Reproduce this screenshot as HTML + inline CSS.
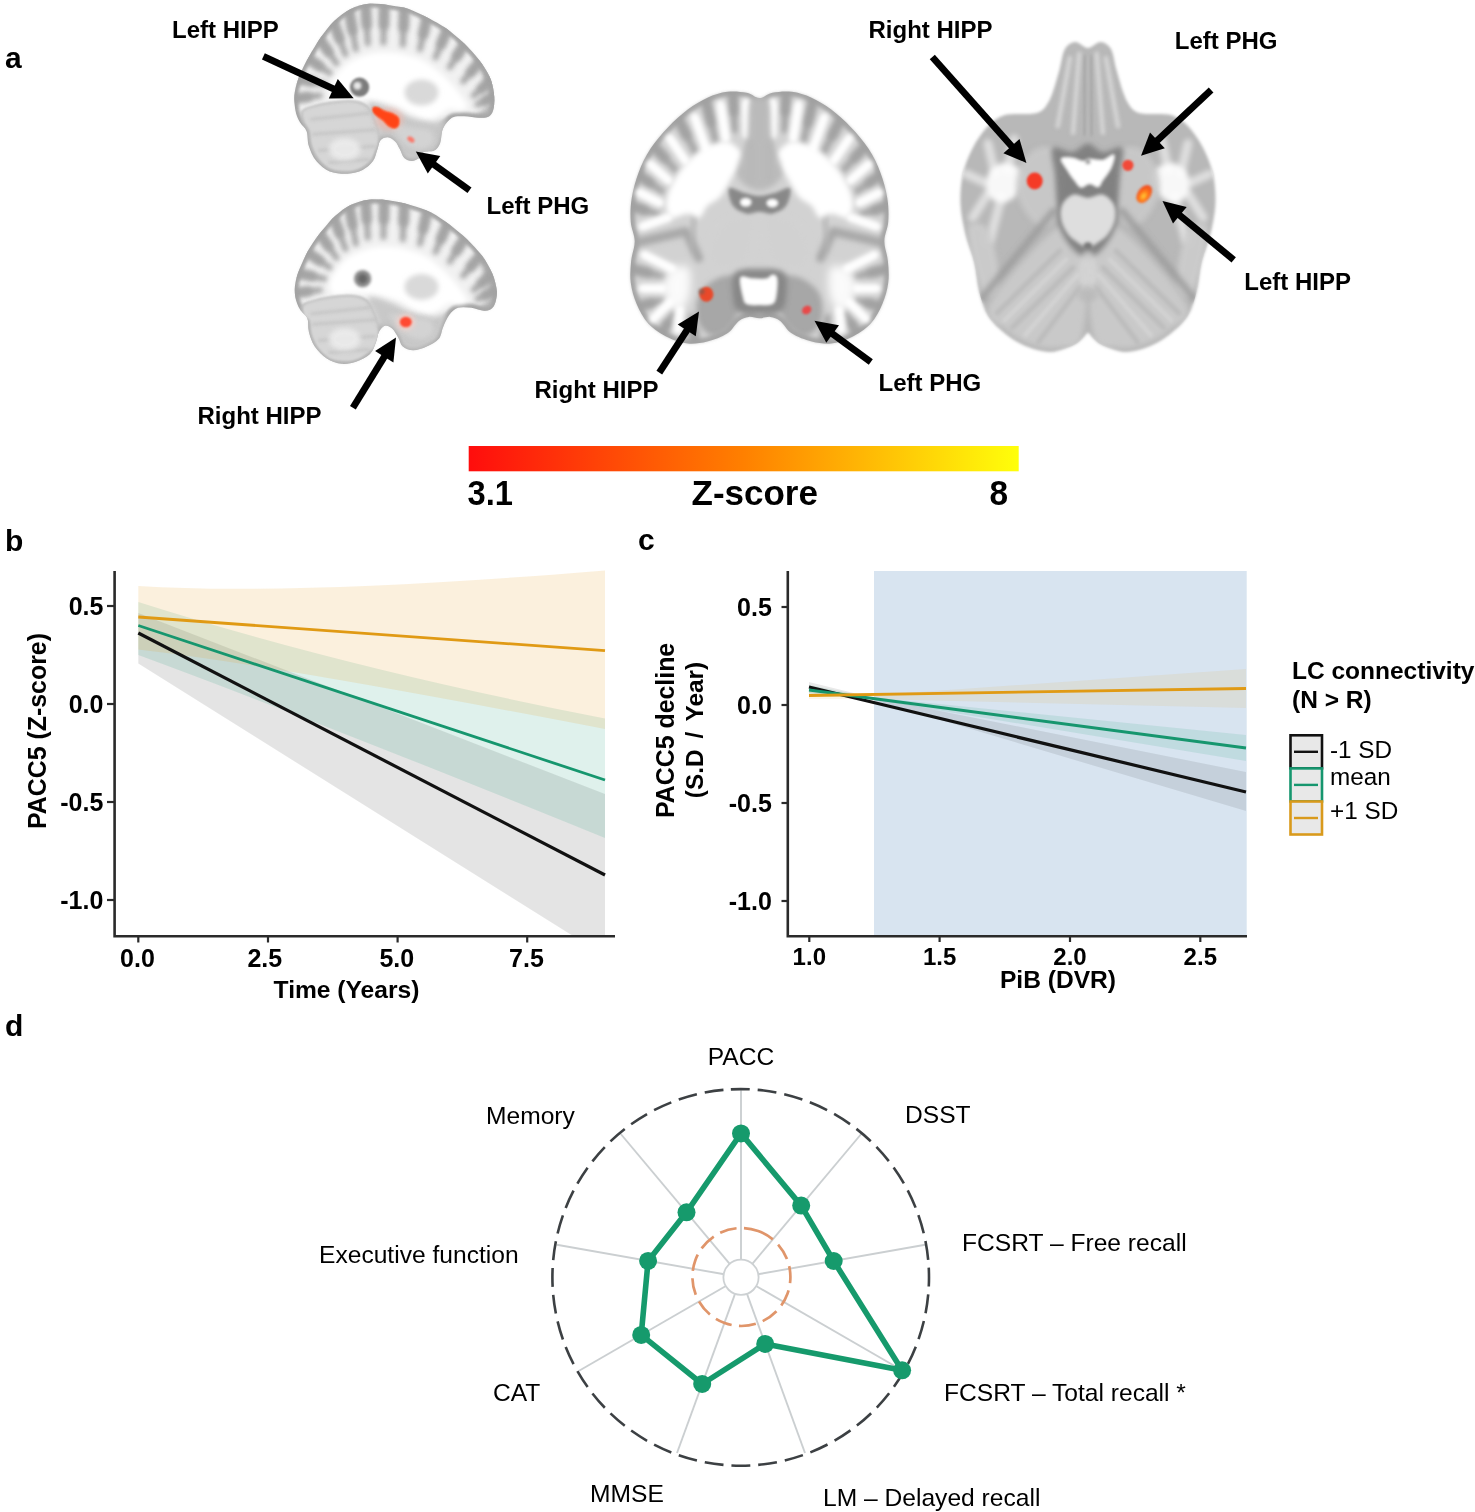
<!DOCTYPE html>
<html><head><meta charset="utf-8"><title>Figure</title>
<style>
html,body{margin:0;padding:0;background:#fff;}
svg{display:block;font-family:"Liberation Sans",Arial,Helvetica,sans-serif;fill:#000;}
</style></head><body>
<svg width="1475" height="1512" viewBox="0 0 1475 1512">
<rect width="1475" height="1512" fill="#fff"/>
<defs><filter id="bl1" x="-30%" y="-30%" width="160%" height="160%"><feGaussianBlur stdDeviation="0.8"/></filter><filter id="bl2" x="-30%" y="-30%" width="160%" height="160%"><feGaussianBlur stdDeviation="1.5"/></filter><filter id="bl3" x="-30%" y="-30%" width="160%" height="160%"><feGaussianBlur stdDeviation="2.5"/></filter><filter id="bl4" x="-30%" y="-30%" width="160%" height="160%"><feGaussianBlur stdDeviation="4"/></filter><filter id="bl5" x="-30%" y="-30%" width="160%" height="160%"><feGaussianBlur stdDeviation="6"/></filter></defs>
<defs><clipPath id="cs1"><path d="M368.5,3.7C375.0,3.1 382.7,4.3 389.4,5.2C396.1,6.1 402.3,6.8 408.8,8.9C415.3,11.1 422.0,14.7 428.2,17.9C434.4,21.1 440.1,24.1 446.1,28.3C452.0,32.6 458.5,38.0 464.0,43.3C469.4,48.5 474.7,54.2 478.9,59.7C483.1,65.1 486.8,70.6 489.3,76.1C491.8,81.5 493.1,87.2 493.8,92.5C494.5,97.7 494.5,103.4 493.8,107.4C493.1,111.4 491.8,114.6 489.3,116.3C486.8,118.1 483.1,117.8 478.9,117.8C474.7,117.8 468.4,116.3 464.0,116.3C459.5,116.3 455.5,115.8 452.0,117.8C448.6,119.8 445.1,124.0 443.1,128.3C441.1,132.5 441.6,139.4 440.1,143.2C438.6,146.9 436.9,149.1 434.1,150.6C431.4,152.1 426.2,150.9 423.7,152.1C421.2,153.4 421.2,156.6 419.2,158.1C417.2,159.6 414.3,161.1 411.8,161.1C409.3,161.1 406.3,160.1 404.3,158.1C402.3,156.1 401.3,151.9 399.8,149.1C398.3,146.4 397.4,143.7 395.4,141.7C393.4,139.7 390.4,137.5 387.9,137.2C385.4,137.0 382.2,138.2 380.5,140.2C378.7,142.2 378.7,145.7 377.5,149.1C376.2,152.6 375.5,157.6 373.0,161.1C370.5,164.6 366.8,167.9 362.6,170.0C358.3,172.1 353.1,173.5 347.6,173.8C342.2,174.0 335.0,173.6 329.7,171.5C324.5,169.4 319.8,165.3 316.3,161.1C312.8,156.8 310.5,151.1 308.9,146.2C307.2,141.2 308.1,135.2 306.6,131.2C305.1,127.3 301.8,125.8 299.9,122.3C298.0,118.8 296.3,115.3 295.4,110.4C294.6,105.4 293.9,98.4 294.7,92.5C295.4,86.5 297.6,80.5 299.9,74.6C302.3,68.6 305.4,62.9 308.9,56.7C312.3,50.5 316.6,43.3 320.8,37.3C325.0,31.3 329.2,25.6 334.2,20.9C339.2,16.2 344.9,11.8 350.6,8.9C356.3,6.1 362.1,4.3 368.5,3.7Z"/></clipPath></defs>
<path d="M368.5,3.7C375.0,3.1 382.7,4.3 389.4,5.2C396.1,6.1 402.3,6.8 408.8,8.9C415.3,11.1 422.0,14.7 428.2,17.9C434.4,21.1 440.1,24.1 446.1,28.3C452.0,32.6 458.5,38.0 464.0,43.3C469.4,48.5 474.7,54.2 478.9,59.7C483.1,65.1 486.8,70.6 489.3,76.1C491.8,81.5 493.1,87.2 493.8,92.5C494.5,97.7 494.5,103.4 493.8,107.4C493.1,111.4 491.8,114.6 489.3,116.3C486.8,118.1 483.1,117.8 478.9,117.8C474.7,117.8 468.4,116.3 464.0,116.3C459.5,116.3 455.5,115.8 452.0,117.8C448.6,119.8 445.1,124.0 443.1,128.3C441.1,132.5 441.6,139.4 440.1,143.2C438.6,146.9 436.9,149.1 434.1,150.6C431.4,152.1 426.2,150.9 423.7,152.1C421.2,153.4 421.2,156.6 419.2,158.1C417.2,159.6 414.3,161.1 411.8,161.1C409.3,161.1 406.3,160.1 404.3,158.1C402.3,156.1 401.3,151.9 399.8,149.1C398.3,146.4 397.4,143.7 395.4,141.7C393.4,139.7 390.4,137.5 387.9,137.2C385.4,137.0 382.2,138.2 380.5,140.2C378.7,142.2 378.7,145.7 377.5,149.1C376.2,152.6 375.5,157.6 373.0,161.1C370.5,164.6 366.8,167.9 362.6,170.0C358.3,172.1 353.1,173.5 347.6,173.8C342.2,174.0 335.0,173.6 329.7,171.5C324.5,169.4 319.8,165.3 316.3,161.1C312.8,156.8 310.5,151.1 308.9,146.2C307.2,141.2 308.1,135.2 306.6,131.2C305.1,127.3 301.8,125.8 299.9,122.3C298.0,118.8 296.3,115.3 295.4,110.4C294.6,105.4 293.9,98.4 294.7,92.5C295.4,86.5 297.6,80.5 299.9,74.6C302.3,68.6 305.4,62.9 308.9,56.7C312.3,50.5 316.6,43.3 320.8,37.3C325.0,31.3 329.2,25.6 334.2,20.9C339.2,16.2 344.9,11.8 350.6,8.9C356.3,6.1 362.1,4.3 368.5,3.7Z" fill="#f1f1f1" filter="url(#bl2)" />
<g clip-path="url(#cs1)">
<path d="M368.5,3.7C375.0,3.1 382.7,4.3 389.4,5.2C396.1,6.1 402.3,6.8 408.8,8.9C415.3,11.1 422.0,14.7 428.2,17.9C434.4,21.1 440.1,24.1 446.1,28.3C452.0,32.6 458.5,38.0 464.0,43.3C469.4,48.5 474.7,54.2 478.9,59.7C483.1,65.1 486.8,70.6 489.3,76.1C491.8,81.5 493.1,87.2 493.8,92.5C494.5,97.7 494.5,103.4 493.8,107.4C493.1,111.4 491.8,114.6 489.3,116.3C486.8,118.1 483.1,117.8 478.9,117.8C474.7,117.8 468.4,116.3 464.0,116.3C459.5,116.3 455.5,115.8 452.0,117.8C448.6,119.8 445.1,124.0 443.1,128.3C441.1,132.5 441.6,139.4 440.1,143.2C438.6,146.9 436.9,149.1 434.1,150.6C431.4,152.1 426.2,150.9 423.7,152.1C421.2,153.4 421.2,156.6 419.2,158.1C417.2,159.6 414.3,161.1 411.8,161.1C409.3,161.1 406.3,160.1 404.3,158.1C402.3,156.1 401.3,151.9 399.8,149.1C398.3,146.4 397.4,143.7 395.4,141.7C393.4,139.7 390.4,137.5 387.9,137.2C385.4,137.0 382.2,138.2 380.5,140.2C378.7,142.2 378.7,145.7 377.5,149.1C376.2,152.6 375.5,157.6 373.0,161.1C370.5,164.6 366.8,167.9 362.6,170.0C358.3,172.1 353.1,173.5 347.6,173.8C342.2,174.0 335.0,173.6 329.7,171.5C324.5,169.4 319.8,165.3 316.3,161.1C312.8,156.8 310.5,151.1 308.9,146.2C307.2,141.2 308.1,135.2 306.6,131.2C305.1,127.3 301.8,125.8 299.9,122.3C298.0,118.8 296.3,115.3 295.4,110.4C294.6,105.4 293.9,98.4 294.7,92.5C295.4,86.5 297.6,80.5 299.9,74.6C302.3,68.6 305.4,62.9 308.9,56.7C312.3,50.5 316.6,43.3 320.8,37.3C325.0,31.3 329.2,25.6 334.2,20.9C339.2,16.2 344.9,11.8 350.6,8.9C356.3,6.1 362.1,4.3 368.5,3.7Z" fill="none" stroke="#9e9e9e" stroke-width="8" filter="url(#bl2)" opacity="0.9"/>
<path d="M483.4,64.1L496.8,104.4M496.8,104.4L478.9,119.3" fill="none" stroke="#a8a8a8" stroke-width="9" stroke-linecap="round" filter="url(#bl3)" opacity="0.8"/>
<path d="M365.5,6.0L367.8,43.3M384.2,6.7L383.4,42.5M404.3,9.7L402.8,44.7M426.7,18.6L420.0,49.2M446.8,30.6L435.6,57.4M464.0,44.7L449.8,67.1M478.9,62.6L463.2,81.3M490.1,81.3L473.7,95.5M349.1,11.2L355.8,49.2M333.5,22.4L345.4,54.4M320.0,39.5L336.5,63.4M308.9,58.9L329.7,73.1M299.2,79.0L324.5,84.3M295.4,98.4L320.0,95.5M493.8,96.9L477.4,104.4" fill="none" stroke="#a2a2a2" stroke-width="6" stroke-linecap="round" filter="url(#bl3)" opacity="0.95"/><path d="M365.5,6.0L366.7,24.6M384.2,6.7L383.8,24.6M404.3,9.7L403.6,27.2M426.7,18.6L423.3,33.9M446.8,30.6L441.2,44.0M464.0,44.7L456.9,55.9M478.9,62.6L471.1,72.0M490.1,81.3L481.9,88.4M349.1,11.2L352.5,30.2M333.5,22.4L339.4,38.4M320.0,39.5L328.3,51.5M308.9,58.9L319.3,66.0M299.2,79.0L311.8,81.7M295.4,98.4L307.7,96.9M493.8,96.9L485.6,100.7" fill="none" stroke="#a2a2a2" stroke-width="10.5" stroke-linecap="round" filter="url(#bl3)" opacity="0.855"/>
<path d="M329.7,89.5C330.2,85.3 334.0,79.0 337.2,74.6C340.4,70.1 344.4,65.9 349.1,62.6C353.9,59.4 359.8,56.9 365.5,55.2C371.3,53.4 377.0,52.3 383.4,52.2C389.9,52.1 397.6,52.9 404.3,54.4C411.0,55.9 417.7,58.0 423.7,61.1C429.7,64.3 435.1,68.9 440.1,73.1C445.1,77.3 449.6,82.0 453.5,86.5C457.5,91.0 461.7,96.4 464.0,99.9C466.2,103.4 467.7,105.6 467.0,107.4C466.2,109.1 462.5,110.1 459.5,110.4C456.5,110.6 452.3,108.1 449.1,108.9C445.8,109.6 443.6,113.1 440.1,114.8C436.6,116.6 432.7,119.3 428.2,119.3C423.7,119.3 417.7,116.8 413.3,114.8C408.8,112.9 405.6,109.4 401.3,107.4C397.1,105.4 392.4,104.2 387.9,102.9C383.4,101.7 380.5,100.7 374.5,99.9C368.5,99.2 358.8,98.4 352.1,98.4C345.4,98.4 337.9,101.4 334.2,99.9C330.5,98.4 329.2,93.7 329.7,89.5Z" fill="#ffffff" filter="url(#bl3)" />
<path d="M310.4,107.4C315.0,105.9 322.8,103.9 329.7,102.9C336.7,101.9 346.0,100.9 352.1,101.4C358.2,101.9 362.6,102.9 366.3,105.9C370.0,108.9 372.2,113.8 374.5,119.3C376.7,124.8 379.6,133.0 379.7,138.7C379.8,144.4 376.7,149.8 375.2,153.6C373.7,157.5 373.2,159.2 370.8,161.8C368.3,164.4 364.2,167.5 360.3,169.3C356.5,171.0 352.6,172.1 347.6,172.3C342.7,172.4 335.4,172.1 330.5,170.0C325.6,167.9 321.4,163.7 318.1,159.6C314.8,155.5 312.2,150.1 310.7,145.4C309.1,140.7 309.7,135.1 308.6,131.2C307.4,127.4 304.7,125.5 303.6,122.3C302.6,119.1 301.0,114.3 302.2,111.9C303.3,109.4 305.8,108.9 310.4,107.4Z" fill="#d6d6d6" filter="url(#bl2)" />
<path d="M311.8,119.3L368.5,113.3M313.3,134.2L374.5,129.8M319.3,150.6L374.5,146.2M329.7,162.6L368.5,159.6" fill="none" stroke="#c2c2c2" stroke-width="3" stroke-linecap="round" filter="url(#bl2)" opacity="0.8"/>
<ellipse cx="344.7" cy="149.1" rx="16.0" ry="11.0" fill="#ececec" filter="url(#bl3)" opacity="0.9"/>
<path d="M310.4,107.4C315.0,105.9 322.8,103.9 329.7,102.9C336.7,101.9 346.0,100.9 352.1,101.4C358.2,101.9 362.6,102.9 366.3,105.9C370.0,108.9 372.2,113.8 374.5,119.3C376.7,124.8 379.6,133.0 379.7,138.7C379.8,144.4 376.7,149.8 375.2,153.6C373.7,157.5 373.2,159.2 370.8,161.8C368.3,164.4 364.2,167.5 360.3,169.3C356.5,171.0 352.6,172.1 347.6,172.3C342.7,172.4 335.4,172.1 330.5,170.0C325.6,167.9 321.4,163.7 318.1,159.6C314.8,155.5 312.2,150.1 310.7,145.4C309.1,140.7 309.7,135.1 308.6,131.2C307.4,127.4 304.7,125.5 303.6,122.3C302.6,119.1 301.0,114.3 302.2,111.9C303.3,109.4 305.8,108.9 310.4,107.4Z" fill="none" stroke="#b4b4b4" stroke-width="2" filter="url(#bl1)" opacity="0.8"/>
<path d="M368.5,102.9C371.0,100.9 382.2,104.9 389.4,107.4C396.6,109.9 404.3,115.3 411.8,117.8C419.2,120.3 428.4,122.0 434.1,122.3C439.9,122.5 444.6,117.3 446.1,119.3C447.6,121.3 444.1,130.3 443.1,134.2C442.1,138.2 441.6,140.2 440.1,143.2C438.6,146.2 437.6,149.4 434.1,152.1C430.7,154.9 424.2,158.6 419.2,159.6C414.3,160.6 407.8,160.3 404.3,158.1C400.8,155.9 400.8,149.6 398.3,146.2C395.9,142.7 392.4,138.5 389.4,137.2C386.4,136.0 382.9,141.7 380.5,138.7C378.0,135.7 376.5,125.3 374.5,119.3C372.5,113.3 366.0,104.9 368.5,102.9Z" fill="#c6c6c6" filter="url(#bl3)" opacity="0.95" />
<path d="M389.4,119.3C391.4,118.3 400.8,125.0 407.3,126.8C413.8,128.5 423.7,127.8 428.2,129.8C432.7,131.7 434.1,135.7 434.1,138.7C434.1,141.7 431.2,145.9 428.2,147.7C425.2,149.4 420.2,149.9 416.2,149.1C412.3,148.4 407.8,145.9 404.3,143.2C400.8,140.4 397.9,136.7 395.4,132.7C392.9,128.8 387.4,120.3 389.4,119.3Z" fill="#d4d4d4" filter="url(#bl3)" opacity="0.9" />
<ellipse cx="421.5" cy="92.5" rx="17.0" ry="13.0" fill="#d9d9d9" filter="url(#bl3)"/>
</g>
<circle cx="359.6" cy="87.2" r="9.6" fill="#7c7c7c" filter="url(#bl1)"/>
<circle cx="357.4" cy="85.7" r="4" fill="#e8e8e8" filter="url(#bl2)"/>
<path d="M373.3,107.7C374.1,107.0 376.4,107.1 378.2,107.7C380.0,108.3 381.8,110.1 384.2,111.1C386.5,112.1 390.0,112.5 392.4,113.6C394.7,114.8 397.3,116.0 398.3,117.8C399.4,119.6 399.2,122.8 398.6,124.5C398.1,126.2 396.7,127.7 395.1,128.0C393.4,128.2 390.6,127.3 388.7,126.0C386.7,124.8 385.4,122.2 383.4,120.5C381.4,118.8 378.4,117.1 376.7,115.6C375.0,114.1 373.9,112.9 373.3,111.6C372.7,110.2 372.5,108.3 373.3,107.7Z" fill="#ff4414" filter="url(#bl1)" />
<ellipse cx="389.4" cy="119.3" rx="14.0" ry="11.0" fill="#ffb0a0" filter="url(#bl3)" opacity="0.5"/>
<path d="M373.3,107.7C374.1,107.0 376.4,107.1 378.2,107.7C380.0,108.3 381.8,110.1 384.2,111.1C386.5,112.1 390.0,112.5 392.4,113.6C394.7,114.8 397.3,116.0 398.3,117.8C399.4,119.6 399.2,122.8 398.6,124.5C398.1,126.2 396.7,127.7 395.1,128.0C393.4,128.2 390.6,127.3 388.7,126.0C386.7,124.8 385.4,122.2 383.4,120.5C381.4,118.8 378.4,117.1 376.7,115.6C375.0,114.1 373.9,112.9 373.3,111.6C372.7,110.2 372.5,108.3 373.3,107.7Z" fill="#ff4414" filter="url(#bl1)" />
<ellipse cx="411.0" cy="139.4" rx="4.0" ry="2.5" fill="#ff7060" filter="url(#bl1)" opacity="0.9" transform="rotate(35 411.0 139.4)"/>
<defs><clipPath id="cs2"><path d="M368.5,199.7C375.0,198.9 382.4,199.6 389.4,200.4C396.4,201.3 403.3,202.9 410.3,204.9C417.2,206.9 424.7,209.1 431.2,212.4C437.6,215.6 443.1,219.8 449.1,224.3C455.0,228.8 461.5,234.0 467.0,239.2C472.4,244.4 477.6,249.9 481.9,255.6C486.1,261.3 489.8,267.6 492.3,273.5C494.8,279.5 496.5,285.9 496.8,291.4C497.0,296.9 495.8,303.1 493.8,306.3C491.8,309.6 488.6,310.6 484.9,310.8C481.1,311.1 475.9,308.3 471.4,307.8C467.0,307.3 461.7,306.6 458.0,307.8C454.3,309.1 451.5,312.0 449.1,315.3C446.6,318.5 444.8,323.2 443.1,327.2C441.4,331.2 441.4,335.9 438.6,339.1C435.9,342.4 430.9,344.7 426.7,346.6C422.5,348.5 417.2,350.3 413.3,350.3C409.3,350.3 405.3,348.7 402.8,346.6C400.3,344.5 400.1,340.6 398.3,337.7C396.6,334.7 394.6,330.7 392.4,328.7C390.1,326.7 387.2,325.2 384.9,325.7C382.7,326.2 380.5,329.0 379.0,331.7C377.5,334.4 377.5,338.4 376.0,342.1C374.5,345.9 373.2,350.8 370.0,354.1C366.8,357.3 361.3,359.9 356.6,361.5C351.9,363.1 346.6,364.2 341.7,363.8C336.7,363.3 331.2,361.4 326.8,358.5C322.3,355.7 317.8,351.1 314.8,346.6C311.8,342.1 310.1,336.4 308.9,331.7C307.6,327.0 308.9,322.0 307.4,318.3C305.9,314.5 301.9,312.8 299.9,309.3C297.9,305.8 296.2,301.9 295.4,297.4C294.7,292.9 294.4,287.9 295.4,282.5C296.4,277.0 298.9,270.5 301.4,264.6C303.9,258.6 306.9,252.4 310.4,246.7C313.8,241.0 318.1,235.5 322.3,230.3C326.5,225.0 331.0,219.6 335.7,215.4C340.4,211.1 345.2,207.5 350.6,204.9C356.1,202.3 362.1,200.4 368.5,199.7Z"/></clipPath></defs>
<path d="M368.5,199.7C375.0,198.9 382.4,199.6 389.4,200.4C396.4,201.3 403.3,202.9 410.3,204.9C417.2,206.9 424.7,209.1 431.2,212.4C437.6,215.6 443.1,219.8 449.1,224.3C455.0,228.8 461.5,234.0 467.0,239.2C472.4,244.4 477.6,249.9 481.9,255.6C486.1,261.3 489.8,267.6 492.3,273.5C494.8,279.5 496.5,285.9 496.8,291.4C497.0,296.9 495.8,303.1 493.8,306.3C491.8,309.6 488.6,310.6 484.9,310.8C481.1,311.1 475.9,308.3 471.4,307.8C467.0,307.3 461.7,306.6 458.0,307.8C454.3,309.1 451.5,312.0 449.1,315.3C446.6,318.5 444.8,323.2 443.1,327.2C441.4,331.2 441.4,335.9 438.6,339.1C435.9,342.4 430.9,344.7 426.7,346.6C422.5,348.5 417.2,350.3 413.3,350.3C409.3,350.3 405.3,348.7 402.8,346.6C400.3,344.5 400.1,340.6 398.3,337.7C396.6,334.7 394.6,330.7 392.4,328.7C390.1,326.7 387.2,325.2 384.9,325.7C382.7,326.2 380.5,329.0 379.0,331.7C377.5,334.4 377.5,338.4 376.0,342.1C374.5,345.9 373.2,350.8 370.0,354.1C366.8,357.3 361.3,359.9 356.6,361.5C351.9,363.1 346.6,364.2 341.7,363.8C336.7,363.3 331.2,361.4 326.8,358.5C322.3,355.7 317.8,351.1 314.8,346.6C311.8,342.1 310.1,336.4 308.9,331.7C307.6,327.0 308.9,322.0 307.4,318.3C305.9,314.5 301.9,312.8 299.9,309.3C297.9,305.8 296.2,301.9 295.4,297.4C294.7,292.9 294.4,287.9 295.4,282.5C296.4,277.0 298.9,270.5 301.4,264.6C303.9,258.6 306.9,252.4 310.4,246.7C313.8,241.0 318.1,235.5 322.3,230.3C326.5,225.0 331.0,219.6 335.7,215.4C340.4,211.1 345.2,207.5 350.6,204.9C356.1,202.3 362.1,200.4 368.5,199.7Z" fill="#f1f1f1" filter="url(#bl2)" />
<g clip-path="url(#cs2)">
<path d="M368.5,199.7C375.0,198.9 382.4,199.6 389.4,200.4C396.4,201.3 403.3,202.9 410.3,204.9C417.2,206.9 424.7,209.1 431.2,212.4C437.6,215.6 443.1,219.8 449.1,224.3C455.0,228.8 461.5,234.0 467.0,239.2C472.4,244.4 477.6,249.9 481.9,255.6C486.1,261.3 489.8,267.6 492.3,273.5C494.8,279.5 496.5,285.9 496.8,291.4C497.0,296.9 495.8,303.1 493.8,306.3C491.8,309.6 488.6,310.6 484.9,310.8C481.1,311.1 475.9,308.3 471.4,307.8C467.0,307.3 461.7,306.6 458.0,307.8C454.3,309.1 451.5,312.0 449.1,315.3C446.6,318.5 444.8,323.2 443.1,327.2C441.4,331.2 441.4,335.9 438.6,339.1C435.9,342.4 430.9,344.7 426.7,346.6C422.5,348.5 417.2,350.3 413.3,350.3C409.3,350.3 405.3,348.7 402.8,346.6C400.3,344.5 400.1,340.6 398.3,337.7C396.6,334.7 394.6,330.7 392.4,328.7C390.1,326.7 387.2,325.2 384.9,325.7C382.7,326.2 380.5,329.0 379.0,331.7C377.5,334.4 377.5,338.4 376.0,342.1C374.5,345.9 373.2,350.8 370.0,354.1C366.8,357.3 361.3,359.9 356.6,361.5C351.9,363.1 346.6,364.2 341.7,363.8C336.7,363.3 331.2,361.4 326.8,358.5C322.3,355.7 317.8,351.1 314.8,346.6C311.8,342.1 310.1,336.4 308.9,331.7C307.6,327.0 308.9,322.0 307.4,318.3C305.9,314.5 301.9,312.8 299.9,309.3C297.9,305.8 296.2,301.9 295.4,297.4C294.7,292.9 294.4,287.9 295.4,282.5C296.4,277.0 298.9,270.5 301.4,264.6C303.9,258.6 306.9,252.4 310.4,246.7C313.8,241.0 318.1,235.5 322.3,230.3C326.5,225.0 331.0,219.6 335.7,215.4C340.4,211.1 345.2,207.5 350.6,204.9C356.1,202.3 362.1,200.4 368.5,199.7Z" fill="none" stroke="#9e9e9e" stroke-width="8" filter="url(#bl2)" opacity="0.9"/>
<path d="M483.4,258.6L496.8,298.9M496.8,298.9L478.9,313.8" fill="none" stroke="#a8a8a8" stroke-width="9" stroke-linecap="round" filter="url(#bl3)" opacity="0.8"/>
<path d="M365.5,200.4L367.8,237.7M384.2,201.2L383.4,237.0M404.3,204.2L402.8,239.2M426.7,213.1L420.0,243.7M446.8,225.0L435.6,251.9M464.0,239.2L449.8,261.6M478.9,257.1L463.2,275.8M490.1,275.8L473.7,289.9M349.1,205.7L355.8,243.7M333.5,216.8L345.4,248.9M320.0,234.0L336.5,257.9M308.9,253.4L329.7,267.6M299.2,273.5L324.5,278.7M295.4,292.9L320.0,289.9M493.8,291.4L477.4,298.9" fill="none" stroke="#a2a2a2" stroke-width="6" stroke-linecap="round" filter="url(#bl3)" opacity="0.95"/><path d="M365.5,200.4L366.7,219.1M384.2,201.2L383.8,219.1M404.3,204.2L403.6,221.7M426.7,213.1L423.3,228.4M446.8,225.0L441.2,238.5M464.0,239.2L456.9,250.4M478.9,257.1L471.1,266.4M490.1,275.8L481.9,282.8M349.1,205.7L352.5,224.7M333.5,216.8L339.4,232.9M320.0,234.0L328.3,245.9M308.9,253.4L319.3,260.5M299.2,273.5L311.8,276.1M295.4,292.9L307.7,291.4M493.8,291.4L485.6,295.1" fill="none" stroke="#a2a2a2" stroke-width="10.5" stroke-linecap="round" filter="url(#bl3)" opacity="0.855"/>
<path d="M329.7,284.0C330.2,279.7 334.0,273.5 337.2,269.0C340.4,264.6 344.4,260.3 349.1,257.1C353.9,253.9 359.8,251.4 365.5,249.7C371.3,247.9 377.0,246.8 383.4,246.7C389.9,246.5 397.6,247.4 404.3,248.9C411.0,250.4 417.7,252.5 423.7,255.6C429.7,258.7 435.1,263.3 440.1,267.6C445.1,271.8 449.6,276.5 453.5,281.0C457.5,285.5 461.7,290.9 464.0,294.4C466.2,297.9 467.7,300.1 467.0,301.9C466.2,303.6 462.5,304.6 459.5,304.8C456.5,305.1 452.3,302.6 449.1,303.3C445.8,304.1 443.6,307.6 440.1,309.3C436.6,311.1 432.7,313.8 428.2,313.8C423.7,313.8 417.7,311.3 413.3,309.3C408.8,307.3 405.6,303.8 401.3,301.9C397.1,299.9 392.4,298.6 387.9,297.4C383.4,296.1 380.5,295.1 374.5,294.4C368.5,293.7 358.8,292.9 352.1,292.9C345.4,292.9 337.9,295.9 334.2,294.4C330.5,292.9 329.2,288.2 329.7,284.0Z" fill="#ffffff" filter="url(#bl3)" />
<path d="M310.4,301.9C315.0,300.4 322.8,298.4 329.7,297.4C336.7,296.4 346.0,295.4 352.1,295.9C358.2,296.4 362.6,297.4 366.3,300.4C370.0,303.3 372.2,308.3 374.5,313.8C376.7,319.3 379.6,327.5 379.7,333.2C379.8,338.9 376.7,345.0 375.2,348.1C373.7,351.2 373.2,350.0 370.8,351.8C368.3,353.7 364.2,357.5 360.3,359.3C356.5,361.0 352.6,362.1 347.6,362.3C342.7,362.4 335.4,362.1 330.5,360.0C325.6,357.9 321.4,353.7 318.1,349.6C314.8,345.5 312.2,340.1 310.7,335.4C309.1,330.7 309.7,324.4 308.6,321.2C307.4,318.1 304.7,319.3 303.6,316.8C302.6,314.3 301.0,308.8 302.2,306.3C303.3,303.8 305.8,303.3 310.4,301.9Z" fill="#d6d6d6" filter="url(#bl2)" />
<path d="M311.8,313.8L368.5,307.8M313.3,324.2L374.5,319.8M319.3,340.6L374.5,336.2M329.7,352.6L368.5,349.6" fill="none" stroke="#c2c2c2" stroke-width="3" stroke-linecap="round" filter="url(#bl2)" opacity="0.8"/>
<ellipse cx="344.7" cy="339.1" rx="16.0" ry="11.0" fill="#ececec" filter="url(#bl3)" opacity="0.9"/>
<path d="M310.4,301.9C315.0,300.4 322.8,298.4 329.7,297.4C336.7,296.4 346.0,295.4 352.1,295.9C358.2,296.4 362.6,297.4 366.3,300.4C370.0,303.3 372.2,308.3 374.5,313.8C376.7,319.3 379.6,327.5 379.7,333.2C379.8,338.9 376.7,345.0 375.2,348.1C373.7,351.2 373.2,350.0 370.8,351.8C368.3,353.7 364.2,357.5 360.3,359.3C356.5,361.0 352.6,362.1 347.6,362.3C342.7,362.4 335.4,362.1 330.5,360.0C325.6,357.9 321.4,353.7 318.1,349.6C314.8,345.5 312.2,340.1 310.7,335.4C309.1,330.7 309.7,324.4 308.6,321.2C307.4,318.1 304.7,319.3 303.6,316.8C302.6,314.3 301.0,308.8 302.2,306.3C303.3,303.8 305.8,303.3 310.4,301.9Z" fill="none" stroke="#b4b4b4" stroke-width="2" filter="url(#bl1)" opacity="0.8"/>
<path d="M368.5,297.4C371.0,295.4 382.2,299.4 389.4,301.9C396.6,304.3 404.3,309.8 411.8,312.3C419.2,314.8 428.4,316.5 434.1,316.8C439.9,317.0 444.6,312.5 446.1,313.8C447.6,315.0 444.1,321.0 443.1,324.2C442.1,327.5 441.6,330.2 440.1,333.2C438.6,336.2 437.6,339.4 434.1,342.1C430.7,344.9 424.2,348.6 419.2,349.6C414.3,350.6 407.8,350.3 404.3,348.1C400.8,345.9 400.8,339.6 398.3,336.2C395.9,332.7 392.4,328.5 389.4,327.2C386.4,326.0 382.9,330.9 380.5,328.7C378.0,326.5 376.5,319.0 374.5,313.8C372.5,308.6 366.0,299.4 368.5,297.4Z" fill="#c6c6c6" filter="url(#bl3)" opacity="0.95" />
<path d="M389.4,313.8C391.4,312.8 400.8,315.8 407.3,316.8C413.8,317.8 423.7,317.8 428.2,319.8C432.7,321.7 434.1,325.7 434.1,328.7C434.1,331.7 431.2,335.9 428.2,337.7C425.2,339.4 420.2,339.9 416.2,339.1C412.3,338.4 407.8,335.9 404.3,333.2C400.8,330.4 397.9,326.0 395.4,322.7C392.9,319.5 387.4,314.8 389.4,313.8Z" fill="#d4d4d4" filter="url(#bl3)" opacity="0.9" />
<ellipse cx="421.5" cy="286.9" rx="17.0" ry="13.0" fill="#d9d9d9" filter="url(#bl3)"/>
</g>
<circle cx="362.6" cy="278.7" r="8.6" fill="#8a8a8a" filter="url(#bl2)"/>
<circle cx="362.6" cy="278.7" r="4.5" fill="#666" filter="url(#bl2)"/>
<ellipse cx="405.8" cy="322.0" rx="9.0" ry="8.0" fill="#ffd0c8" filter="url(#bl3)" opacity="0.7"/>
<ellipse cx="405.8" cy="322.0" rx="6.0" ry="5.2" fill="#ff4a30" filter="url(#bl1)"/>
<defs><clipPath id="cc"><path d="M759.5,98.1C763.8,98.1 766.9,93.8 772.3,92.8C777.7,91.7 785.4,91.0 792.0,91.8C798.5,92.6 805.1,94.7 811.6,97.7C818.2,100.6 824.7,104.6 831.3,109.5C837.8,114.4 844.7,120.6 850.9,127.2C857.2,133.7 863.7,141.3 868.6,148.8C873.6,156.4 877.3,164.2 880.4,172.4C883.5,180.6 886.0,189.8 887.3,198.0C888.6,206.2 888.8,214.4 888.3,221.6C887.8,228.8 884.4,234.7 884.4,241.2C884.3,247.8 887.3,254.0 887.9,260.9C888.6,267.8 889.2,275.3 888.3,282.5C887.4,289.7 885.3,297.3 882.4,304.1C879.5,311.0 875.8,318.2 870.6,323.8C865.4,329.4 857.5,334.3 850.9,337.6C844.4,340.8 837.8,342.8 831.3,343.5C824.7,344.1 818.2,343.1 811.6,341.5C805.1,339.9 797.2,337.1 792.0,333.6C786.7,330.2 783.8,323.6 780.2,320.9C776.6,318.1 773.8,317.4 770.3,316.9C766.9,316.5 763.1,318.3 759.5,318.3C755.9,318.3 752.1,316.5 748.7,316.9C745.3,317.4 742.5,318.1 738.9,320.9C735.3,323.6 732.3,330.2 727.1,333.6C721.8,337.1 714.0,339.9 707.4,341.5C700.9,343.1 694.3,344.1 687.7,343.5C681.2,342.8 674.6,340.8 668.1,337.6C661.5,334.3 653.7,329.4 648.4,323.8C643.2,318.2 639.6,311.0 636.6,304.1C633.7,297.3 631.6,289.7 630.7,282.5C629.8,275.3 630.5,267.8 631.1,260.9C631.8,254.0 634.7,247.8 634.7,241.2C634.6,234.7 631.2,228.8 630.7,221.6C630.2,214.4 630.4,206.2 631.7,198.0C633.0,189.8 635.5,180.6 638.6,172.4C641.7,164.2 645.5,156.4 650.4,148.8C655.3,141.3 661.9,133.7 668.1,127.2C674.3,120.6 681.2,114.4 687.7,109.5C694.3,104.6 700.9,100.6 707.4,97.7C714.0,94.7 720.5,92.6 727.1,91.8C733.6,91.0 741.3,91.7 746.7,92.8C752.1,93.8 755.3,98.1 759.5,98.1Z"/></clipPath></defs>
<path d="M759.5,98.1C763.8,98.1 766.9,93.8 772.3,92.8C777.7,91.7 785.4,91.0 792.0,91.8C798.5,92.6 805.1,94.7 811.6,97.7C818.2,100.6 824.7,104.6 831.3,109.5C837.8,114.4 844.7,120.6 850.9,127.2C857.2,133.7 863.7,141.3 868.6,148.8C873.6,156.4 877.3,164.2 880.4,172.4C883.5,180.6 886.0,189.8 887.3,198.0C888.6,206.2 888.8,214.4 888.3,221.6C887.8,228.8 884.4,234.7 884.4,241.2C884.3,247.8 887.3,254.0 887.9,260.9C888.6,267.8 889.2,275.3 888.3,282.5C887.4,289.7 885.3,297.3 882.4,304.1C879.5,311.0 875.8,318.2 870.6,323.8C865.4,329.4 857.5,334.3 850.9,337.6C844.4,340.8 837.8,342.8 831.3,343.5C824.7,344.1 818.2,343.1 811.6,341.5C805.1,339.9 797.2,337.1 792.0,333.6C786.7,330.2 783.8,323.6 780.2,320.9C776.6,318.1 773.8,317.4 770.3,316.9C766.9,316.5 763.1,318.3 759.5,318.3C755.9,318.3 752.1,316.5 748.7,316.9C745.3,317.4 742.5,318.1 738.9,320.9C735.3,323.6 732.3,330.2 727.1,333.6C721.8,337.1 714.0,339.9 707.4,341.5C700.9,343.1 694.3,344.1 687.7,343.5C681.2,342.8 674.6,340.8 668.1,337.6C661.5,334.3 653.7,329.4 648.4,323.8C643.2,318.2 639.6,311.0 636.6,304.1C633.7,297.3 631.6,289.7 630.7,282.5C629.8,275.3 630.5,267.8 631.1,260.9C631.8,254.0 634.7,247.8 634.7,241.2C634.6,234.7 631.2,228.8 630.7,221.6C630.2,214.4 630.4,206.2 631.7,198.0C633.0,189.8 635.5,180.6 638.6,172.4C641.7,164.2 645.5,156.4 650.4,148.8C655.3,141.3 661.9,133.7 668.1,127.2C674.3,120.6 681.2,114.4 687.7,109.5C694.3,104.6 700.9,100.6 707.4,97.7C714.0,94.7 720.5,92.6 727.1,91.8C733.6,91.0 741.3,91.7 746.7,92.8C752.1,93.8 755.3,98.1 759.5,98.1Z" fill="#d2d2d2" filter="url(#bl2)" />
<g clip-path="url(#cc)"><g filter="url(#bl1)">
<path d="M759.5,98.1C763.8,98.1 766.9,93.8 772.3,92.8C777.7,91.7 785.4,91.0 792.0,91.8C798.5,92.6 805.1,94.7 811.6,97.7C818.2,100.6 824.7,104.6 831.3,109.5C837.8,114.4 844.7,120.6 850.9,127.2C857.2,133.7 863.7,141.3 868.6,148.8C873.6,156.4 877.3,164.2 880.4,172.4C883.5,180.6 886.0,189.8 887.3,198.0C888.6,206.2 888.8,214.4 888.3,221.6C887.8,228.8 884.4,234.7 884.4,241.2C884.3,247.8 887.3,254.0 887.9,260.9C888.6,267.8 889.2,275.3 888.3,282.5C887.4,289.7 885.3,297.3 882.4,304.1C879.5,311.0 875.8,318.2 870.6,323.8C865.4,329.4 857.5,334.3 850.9,337.6C844.4,340.8 837.8,342.8 831.3,343.5C824.7,344.1 818.2,343.1 811.6,341.5C805.1,339.9 797.2,337.1 792.0,333.6C786.7,330.2 783.8,323.6 780.2,320.9C776.6,318.1 773.8,317.4 770.3,316.9C766.9,316.5 763.1,318.3 759.5,318.3C755.9,318.3 752.1,316.5 748.7,316.9C745.3,317.4 742.5,318.1 738.9,320.9C735.3,323.6 732.3,330.2 727.1,333.6C721.8,337.1 714.0,339.9 707.4,341.5C700.9,343.1 694.3,344.1 687.7,343.5C681.2,342.8 674.6,340.8 668.1,337.6C661.5,334.3 653.7,329.4 648.4,323.8C643.2,318.2 639.6,311.0 636.6,304.1C633.7,297.3 631.6,289.7 630.7,282.5C629.8,275.3 630.5,267.8 631.1,260.9C631.8,254.0 634.7,247.8 634.7,241.2C634.6,234.7 631.2,228.8 630.7,221.6C630.2,214.4 630.4,206.2 631.7,198.0C633.0,189.8 635.5,180.6 638.6,172.4C641.7,164.2 645.5,156.4 650.4,148.8C655.3,141.3 661.9,133.7 668.1,127.2C674.3,120.6 681.2,114.4 687.7,109.5C694.3,104.6 700.9,100.6 707.4,97.7C714.0,94.7 720.5,92.6 727.1,91.8C733.6,91.0 741.3,91.7 746.7,92.8C752.1,93.8 755.3,98.1 759.5,98.1Z" fill="none" stroke="#a0a0a0" stroke-width="9" filter="url(#bl2)" opacity="0.9"/>
<path d="M786.1,92.2L784.5,130.1M813.6,98.7L802.2,145.9M841.1,118.3L823.8,151.8M865.7,145.9L844.1,169.5M881.4,174.4L857.2,191.1M887.9,205.8L861.8,214.1M887.3,268.8L855.3,276.6M879.5,306.1L855.9,300.2M857.8,334.6L845.4,313.0M823.8,342.5L827.7,316.9" fill="none" stroke="#a0a0a0" stroke-width="6" stroke-linecap="round" filter="url(#bl3)" opacity="0.95"/><path d="M786.1,92.2L785.3,111.2M813.6,98.7L807.9,122.3M841.1,118.3L832.5,135.1M865.7,145.9L854.9,157.7M881.4,174.4L869.3,182.7M887.9,205.8L874.8,210.0M887.3,268.8L871.3,272.7M879.5,306.1L867.7,303.2M857.8,334.6L851.6,323.8M823.8,342.5L825.8,329.7" fill="none" stroke="#a0a0a0" stroke-width="10" stroke-linecap="round" filter="url(#bl3)" opacity="0.855"/>
<path d="M772.0,134.6L772.6,102.9M793.3,138.0L798.4,104.8M813.0,148.8L824.2,117.4M833.9,160.6L849.1,138.4M850.6,180.3L868.5,164.6M859.5,202.6L879.1,192.9M850.9,217.6L876.5,226.5M856.8,288.4L876.5,288.4M849.0,302.2L865.7,318.9M839.1,310.0L841.1,329.7M847.0,268.8L874.5,255.0" fill="none" stroke="#ffffff" stroke-width="9" stroke-linecap="round" filter="url(#bl3)" opacity="0.95"/>
<path d="M772.0,134.6L772.6,102.9M793.3,138.0L798.4,104.8M813.0,148.8L824.2,117.4M833.9,160.6L849.1,138.4M850.6,180.3L868.5,164.6M859.5,202.6L879.1,192.9M850.9,217.6L876.5,226.5M856.8,288.4L876.5,288.4M849.0,302.2L865.7,318.9M839.1,310.0L841.1,329.7M847.0,268.8L874.5,255.0" fill="none" stroke="#ffffff" stroke-width="6" stroke-linecap="round" filter="url(#bl2)" opacity="0.7"/>
<path d="M888.7,244.2L833.2,231.4M833.2,231.4L820.5,257.9" fill="none" stroke="#a6a6a6" stroke-width="9" stroke-linecap="round" filter="url(#bl3)" opacity="0.95"/>
<path d="M823.4,205.8L828.3,249.1" fill="none" stroke="#b4b4b4" stroke-width="6" stroke-linecap="round" filter="url(#bl3)" opacity="0.8"/>
<path d="M776.2,154.7C778.5,151.1 783.4,144.9 788.0,142.9C792.6,141.0 798.2,141.3 803.8,142.9C809.3,144.6 815.9,148.5 821.4,152.7C827.0,157.0 832.6,162.6 837.2,168.5C841.8,174.4 846.4,181.9 849.0,188.1C851.6,194.4 853.2,200.9 852.9,205.8C852.6,210.8 850.6,216.3 847.0,217.6C843.4,218.9 835.9,213.7 831.3,213.7C826.7,213.7 822.8,218.9 819.5,217.6C816.2,216.3 814.9,209.1 811.6,205.8C808.3,202.6 803.1,201.2 799.8,198.0C796.5,194.7 794.6,190.4 792.0,186.2C789.3,181.9 787.0,176.0 784.1,172.4C781.1,168.8 775.6,167.5 774.3,164.5C772.9,161.6 773.9,158.3 776.2,154.7Z" fill="#ffffff" filter="url(#bl3)" />
<path d="M831.3,266.8C834.4,264.8 842.9,265.8 847.0,268.8C851.1,271.7 855.2,278.9 855.9,284.5C856.5,290.1 853.7,297.9 850.9,302.2C848.2,306.4 842.6,310.7 839.1,310.0C835.7,309.4 832.1,303.2 830.3,298.2C828.5,293.3 828.2,285.8 828.3,280.6C828.5,275.3 828.2,268.8 831.3,266.8Z" fill="#ffffff" filter="url(#bl4)" opacity="0.9" />
<path d="M764.4,217.6C767.1,210.8 777.5,213.7 784.1,215.7C790.6,217.6 799.2,223.2 803.8,229.4C808.3,235.7 811.6,246.5 811.6,253.0C811.6,259.6 808.3,266.1 803.8,268.8C799.2,271.4 790.0,270.7 784.1,268.8C778.2,266.8 771.6,265.5 768.4,257.0C765.1,248.4 761.8,224.5 764.4,217.6Z" fill="#d2d2d2" filter="url(#bl3)" opacity="0.95" />
<path d="M782.1,276.6C786.1,273.7 795.6,275.6 801.8,278.6C808.0,281.5 816.2,287.4 819.5,294.3C822.8,301.2 823.4,313.0 821.4,319.9C819.5,326.8 812.6,334.0 807.7,335.6C802.8,337.2 796.2,333.0 792.0,329.7C787.7,326.4 784.4,321.5 782.1,315.9C779.8,310.4 778.2,302.8 778.2,296.3C778.2,289.7 778.2,279.6 782.1,276.6Z" fill="#a2a2a2" filter="url(#bl3)" opacity="0.9" />
<path d="M733.0,92.2L734.5,130.1M705.4,98.7L716.8,145.9M677.9,118.3L695.2,151.8M653.3,145.9L675.0,169.5M637.6,174.4L661.8,191.1M631.1,205.8L657.3,214.1M631.7,268.8L663.8,276.6M639.6,306.1L663.2,300.2M661.2,334.6L673.6,313.0M695.2,342.5L691.3,316.9" fill="none" stroke="#a0a0a0" stroke-width="6" stroke-linecap="round" filter="url(#bl3)" opacity="0.95"/><path d="M733.0,92.2L733.8,111.2M705.4,98.7L711.1,122.3M677.9,118.3L686.6,135.1M653.3,145.9L664.2,157.7M637.6,174.4L649.7,182.7M631.1,205.8L644.2,210.0M631.7,268.8L647.7,272.7M639.6,306.1L651.4,303.2M661.2,334.6L667.4,323.8M695.2,342.5L693.3,329.7" fill="none" stroke="#a0a0a0" stroke-width="10" stroke-linecap="round" filter="url(#bl3)" opacity="0.855"/>
<path d="M747.0,134.6L746.4,102.9M725.7,138.0L720.6,104.8M706.0,148.8L694.8,117.4M685.1,160.6L669.9,138.4M668.4,180.3L650.5,164.6M659.5,202.6L639.9,192.9M668.1,217.6L642.5,226.5M662.2,288.4L642.5,288.4M670.1,302.2L653.3,318.9M679.9,310.0L677.9,329.7M672.0,268.8L644.5,255.0" fill="none" stroke="#ffffff" stroke-width="9" stroke-linecap="round" filter="url(#bl3)" opacity="0.95"/>
<path d="M747.0,134.6L746.4,102.9M725.7,138.0L720.6,104.8M706.0,148.8L694.8,117.4M685.1,160.6L669.9,138.4M668.4,180.3L650.5,164.6M659.5,202.6L639.9,192.9M668.1,217.6L642.5,226.5M662.2,288.4L642.5,288.4M670.1,302.2L653.3,318.9M679.9,310.0L677.9,329.7M672.0,268.8L644.5,255.0" fill="none" stroke="#ffffff" stroke-width="6" stroke-linecap="round" filter="url(#bl2)" opacity="0.7"/>
<path d="M630.3,244.2L685.8,231.4M685.8,231.4L698.6,257.9" fill="none" stroke="#a6a6a6" stroke-width="9" stroke-linecap="round" filter="url(#bl3)" opacity="0.95"/>
<path d="M695.6,205.8L690.7,249.1" fill="none" stroke="#b4b4b4" stroke-width="6" stroke-linecap="round" filter="url(#bl3)" opacity="0.8"/>
<path d="M742.8,154.7C740.5,151.1 735.6,144.9 731.0,142.9C726.4,141.0 720.8,141.3 715.3,142.9C709.7,144.6 703.2,148.5 697.6,152.7C692.0,157.0 686.4,162.6 681.9,168.5C677.3,174.4 672.7,181.9 670.1,188.1C667.4,194.4 665.8,200.9 666.1,205.8C666.4,210.8 668.4,216.3 672.0,217.6C675.6,218.9 683.2,213.7 687.7,213.7C692.3,213.7 696.3,218.9 699.5,217.6C702.8,216.3 704.1,209.1 707.4,205.8C710.7,202.6 715.9,201.2 719.2,198.0C722.5,194.7 724.5,190.4 727.1,186.2C729.7,181.9 732.0,176.0 734.9,172.4C737.9,168.8 743.5,167.5 744.8,164.5C746.1,161.6 745.1,158.3 742.8,154.7Z" fill="#ffffff" filter="url(#bl3)" />
<path d="M687.7,266.8C684.6,264.8 676.1,265.8 672.0,268.8C667.9,271.7 663.8,278.9 663.2,284.5C662.5,290.1 665.3,297.9 668.1,302.2C670.9,306.4 676.4,310.7 679.9,310.0C683.3,309.4 686.9,303.2 688.7,298.2C690.5,293.3 690.9,285.8 690.7,280.6C690.5,275.3 690.9,268.8 687.7,266.8Z" fill="#ffffff" filter="url(#bl4)" opacity="0.9" />
<path d="M754.6,217.6C752.0,210.8 741.5,213.7 734.9,215.7C728.4,217.6 719.9,223.2 715.3,229.4C710.7,235.7 707.4,246.5 707.4,253.0C707.4,259.6 710.7,266.1 715.3,268.8C719.9,271.4 729.0,270.7 734.9,268.8C740.8,266.8 747.4,265.5 750.7,257.0C753.9,248.4 757.2,224.5 754.6,217.6Z" fill="#d2d2d2" filter="url(#bl3)" opacity="0.95" />
<path d="M736.9,276.6C733.0,273.7 723.5,275.6 717.2,278.6C711.0,281.5 702.8,287.4 699.5,294.3C696.3,301.2 695.6,313.0 697.6,319.9C699.5,326.8 706.4,334.0 711.3,335.6C716.3,337.2 722.8,333.0 727.1,329.7C731.3,326.4 734.6,321.5 736.9,315.9C739.2,310.4 740.8,302.8 740.8,296.3C740.8,289.7 740.8,279.6 736.9,276.6Z" fill="#a2a2a2" filter="url(#bl3)" opacity="0.9" />
<path d="M750.7,99.7C754.3,93.1 764.8,93.1 768.4,99.7C772.0,106.2 770.0,126.5 772.3,139.0C774.6,151.4 784.3,165.9 782.1,174.4C780.0,182.9 767.1,190.1 759.5,190.1C752.0,190.1 739.0,182.9 736.9,174.4C734.8,165.9 744.4,151.4 746.7,139.0C749.0,126.5 747.1,106.2 750.7,99.7Z" fill="#b8b8b8" filter="url(#bl3)" opacity="0.9" />
<path d="M759.5,98.7L759.5,172.4" fill="none" stroke="#a0a0a0" stroke-width="4" stroke-linecap="round" filter="url(#bl2)"/>
<path d="M759.5,144.9L759.5,182.2" fill="none" stroke="#8c8c8c" stroke-width="7" stroke-linecap="round" filter="url(#bl3)" opacity="0.8"/>
<path d="M759.5,221.6L759.5,268.8" fill="none" stroke="#8a8a8a" stroke-width="4" stroke-linecap="round" filter="url(#bl2)" opacity="0.9"/>
<path d="M750.7,144.9L750.7,178.3M768.4,144.9L768.4,178.3" fill="none" stroke="#b8b8b8" stroke-width="8" stroke-linecap="round" filter="url(#bl3)" opacity="0.8"/>
<path d="M729.0,188.1C731.0,186.0 739.7,191.7 744.8,193.1C749.8,194.4 754.6,196.0 759.5,196.0C764.4,196.0 769.2,194.4 774.3,193.1C779.3,191.7 788.0,186.0 790.0,188.1C792.0,190.3 789.0,201.6 786.1,205.8C783.1,210.1 776.7,212.7 772.3,213.7C767.9,214.7 763.8,211.7 759.5,211.7C755.3,211.7 751.2,214.7 746.7,213.7C742.3,212.7 735.9,210.1 733.0,205.8C730.0,201.6 727.1,190.3 729.0,188.1Z" fill="#7c7c7c" filter="url(#bl2)" opacity="0.85" />
<ellipse cx="745.8" cy="202.3" rx="5.6" ry="4.2" fill="#ffffff" filter="url(#bl1)"/>
<ellipse cx="772.3" cy="203.1" rx="5.8" ry="4.2" fill="#ffffff" filter="url(#bl1)"/>
<path d="M734.9,272.7C739.4,268.1 751.3,268.8 759.5,268.8C767.7,268.8 779.7,268.1 784.1,272.7C788.5,277.3 786.7,289.7 786.1,296.3C785.4,302.8 784.6,309.1 780.2,312.0C775.7,315.0 766.4,314.0 759.5,314.0C752.6,314.0 743.3,315.0 738.9,312.0C734.4,309.1 733.6,302.8 733.0,296.3C732.3,289.7 730.5,277.3 734.9,272.7Z" fill="#858585" filter="url(#bl3)" opacity="0.95" />
<path d="M740.4,277.6C742.1,274.7 748.3,278.4 752.6,278.6C757.0,278.7 763.1,279.2 766.4,278.6C769.7,277.9 770.5,274.7 772.3,274.7C774.1,274.7 776.6,275.0 777.2,278.6C777.9,282.2 777.0,292.0 776.2,296.3C775.4,300.5 775.1,302.7 772.3,304.1C769.5,305.6 763.8,305.1 759.5,305.1C755.3,305.1 749.5,305.6 746.7,304.1C743.9,302.7 743.9,300.7 742.8,296.3C741.8,291.9 738.8,280.6 740.4,277.6Z" fill="#ffffff" filter="url(#bl1)" />
</g></g>
<ellipse cx="706.4" cy="294.3" rx="7.0" ry="7.5" fill="#e84a2c" filter="url(#bl1)"/>
<ellipse cx="701.5" cy="291.4" rx="3.0" ry="3.0" fill="#7a5a50" filter="url(#bl2)" opacity="0.7"/>
<ellipse cx="806.7" cy="310.0" rx="5.0" ry="4.0" fill="#e84848" filter="url(#bl1)" transform="rotate(-35 806.7 310.0)"/>
<defs><clipPath id="ca"><path d="M1087.9,47.9C1092.2,47.9 1096.7,41.8 1100.6,42.0C1104.4,42.2 1108.4,44.7 1111.1,49.2C1113.7,53.8 1114.2,61.9 1116.3,69.3C1118.4,76.6 1121.3,87.3 1123.5,93.3C1125.7,99.3 1127.5,102.3 1129.4,105.3C1131.3,108.3 1132.6,109.8 1135.1,111.2C1137.5,112.6 1140.5,113.3 1144.2,113.8C1147.9,114.3 1152.6,113.7 1157.3,114.0C1162.1,114.3 1167.5,113.6 1172.6,115.6C1177.7,117.6 1182.8,120.6 1187.9,126.0C1193.0,131.4 1199.0,139.9 1203.2,147.9C1207.3,155.9 1210.9,164.6 1213.0,174.0C1215.0,183.5 1215.9,194.4 1215.4,204.6C1214.9,214.8 1212.5,225.5 1210.1,235.2C1207.8,244.8 1203.7,253.3 1201.4,262.7C1199.2,272.1 1198.9,282.7 1196.6,291.7C1194.3,300.6 1192.2,308.9 1187.5,316.3C1182.7,323.6 1175.1,330.3 1168.2,335.5C1161.4,340.8 1153.7,344.9 1146.4,347.6C1139.1,350.3 1131.9,352.3 1124.6,351.9C1117.3,351.5 1108.0,347.5 1102.8,345.2C1097.5,342.9 1095.4,340.0 1093.0,338.0C1090.5,335.9 1089.6,333.1 1087.9,333.1C1086.3,333.1 1085.4,335.9 1082.9,338.0C1080.4,340.0 1078.4,342.9 1073.1,345.2C1067.8,347.5 1058.5,351.5 1051.3,351.9C1044.0,352.3 1036.7,350.3 1029.4,347.6C1022.2,344.9 1014.5,340.8 1007.6,335.5C1000.8,330.3 993.1,323.6 988.4,316.3C983.7,308.9 981.6,300.6 979.2,291.7C976.9,282.7 976.7,272.1 974.4,262.7C972.2,253.3 968.0,244.8 965.7,235.2C963.4,225.5 960.9,214.8 960.5,204.6C960.0,194.4 960.8,183.5 962.9,174.0C964.9,164.6 968.5,155.9 972.7,147.9C976.9,139.9 982.9,131.4 988.0,126.0C993.1,120.6 998.2,117.6 1003.3,115.6C1008.3,113.6 1013.8,114.3 1018.5,114.0C1023.3,113.7 1027.9,114.3 1031.6,113.8C1035.3,113.3 1038.3,112.6 1040.8,111.2C1043.3,109.8 1044.5,108.3 1046.5,105.3C1048.4,102.3 1050.2,99.3 1052.4,93.3C1054.5,87.3 1057.5,76.6 1059.6,69.3C1061.6,61.9 1062.2,53.8 1064.8,49.2C1067.4,44.7 1071.4,42.2 1075.3,42.0C1079.1,41.8 1083.7,47.9 1087.9,47.9Z"/></clipPath></defs>
<path d="M1087.9,47.9C1092.2,47.9 1096.7,41.8 1100.6,42.0C1104.4,42.2 1108.4,44.7 1111.1,49.2C1113.7,53.8 1114.2,61.9 1116.3,69.3C1118.4,76.6 1121.3,87.3 1123.5,93.3C1125.7,99.3 1127.5,102.3 1129.4,105.3C1131.3,108.3 1132.6,109.8 1135.1,111.2C1137.5,112.6 1140.5,113.3 1144.2,113.8C1147.9,114.3 1152.6,113.7 1157.3,114.0C1162.1,114.3 1167.5,113.6 1172.6,115.6C1177.7,117.6 1182.8,120.6 1187.9,126.0C1193.0,131.4 1199.0,139.9 1203.2,147.9C1207.3,155.9 1210.9,164.6 1213.0,174.0C1215.0,183.5 1215.9,194.4 1215.4,204.6C1214.9,214.8 1212.5,225.5 1210.1,235.2C1207.8,244.8 1203.7,253.3 1201.4,262.7C1199.2,272.1 1198.9,282.7 1196.6,291.7C1194.3,300.6 1192.2,308.9 1187.5,316.3C1182.7,323.6 1175.1,330.3 1168.2,335.5C1161.4,340.8 1153.7,344.9 1146.4,347.6C1139.1,350.3 1131.9,352.3 1124.6,351.9C1117.3,351.5 1108.0,347.5 1102.8,345.2C1097.5,342.9 1095.4,340.0 1093.0,338.0C1090.5,335.9 1089.6,333.1 1087.9,333.1C1086.3,333.1 1085.4,335.9 1082.9,338.0C1080.4,340.0 1078.4,342.9 1073.1,345.2C1067.8,347.5 1058.5,351.5 1051.3,351.9C1044.0,352.3 1036.7,350.3 1029.4,347.6C1022.2,344.9 1014.5,340.8 1007.6,335.5C1000.8,330.3 993.1,323.6 988.4,316.3C983.7,308.9 981.6,300.6 979.2,291.7C976.9,282.7 976.7,272.1 974.4,262.7C972.2,253.3 968.0,244.8 965.7,235.2C963.4,225.5 960.9,214.8 960.5,204.6C960.0,194.4 960.8,183.5 962.9,174.0C964.9,164.6 968.5,155.9 972.7,147.9C976.9,139.9 982.9,131.4 988.0,126.0C993.1,120.6 998.2,117.6 1003.3,115.6C1008.3,113.6 1013.8,114.3 1018.5,114.0C1023.3,113.7 1027.9,114.3 1031.6,113.8C1035.3,113.3 1038.3,112.6 1040.8,111.2C1043.3,109.8 1044.5,108.3 1046.5,105.3C1048.4,102.3 1050.2,99.3 1052.4,93.3C1054.5,87.3 1057.5,76.6 1059.6,69.3C1061.6,61.9 1062.2,53.8 1064.8,49.2C1067.4,44.7 1071.4,42.2 1075.3,42.0C1079.1,41.8 1083.7,47.9 1087.9,47.9Z" fill="#b8b8b8" filter="url(#bl2)" />
<g clip-path="url(#ca)"><g filter="url(#bl1)">
<path d="M1096.7,54.0L1102.8,132.6M1106.0,58.4L1118.0,126.0" fill="none" stroke="#d6d6d6" stroke-width="5" stroke-linecap="round" filter="url(#bl2)" opacity="0.9"/>
<path d="M1090.8,56.2L1091.9,134.8" fill="none" stroke="#9e9e9e" stroke-width="3" stroke-linecap="round" filter="url(#bl2)" opacity="0.8"/>
<path d="M1151.9,174.0C1153.0,169.1 1160.4,165.7 1165.0,164.2C1169.5,162.8 1175.2,162.9 1179.2,165.3C1183.2,167.7 1187.7,173.3 1189.0,178.4C1190.3,183.5 1189.5,191.9 1186.8,195.9C1184.1,199.9 1177.3,202.8 1172.6,202.4C1167.9,202.1 1161.9,198.4 1158.4,193.7C1155.0,189.0 1150.8,179.0 1151.9,174.0Z" fill="#ffffff" filter="url(#bl3)" opacity="0.9" />
<path d="M1181.3,171.9L1187.9,143.5M1190.1,182.8L1209.7,174.0M1187.9,193.7L1203.2,217.7M1168.2,169.7L1161.7,139.1M1174.8,198.0L1185.7,239.5" fill="none" stroke="#ffffff" stroke-width="9" stroke-linecap="round" filter="url(#bl3)" opacity="0.55"/>
<path d="M1190.1,226.4C1194.4,222.8 1205.7,219.6 1207.5,226.4C1209.3,233.3 1203.9,255.9 1201.0,267.5C1198.1,279.2 1194.1,293.7 1190.1,296.5C1186.1,299.3 1178.4,292.5 1177.0,284.4C1175.5,276.4 1179.2,257.9 1181.3,248.2C1183.5,238.6 1185.7,230.1 1190.1,226.4Z" fill="#cdcdcd" filter="url(#bl3)" opacity="0.9" />
<path d="M1115.9,152.2C1119.9,147.1 1131.1,145.7 1137.7,147.9C1144.2,150.0 1151.5,158.0 1155.2,165.3C1158.8,172.6 1161.0,182.8 1159.5,191.5C1158.1,200.2 1151.5,211.9 1146.4,217.7C1141.3,223.5 1133.7,227.9 1129.0,226.4C1124.2,225.0 1120.6,217.0 1118.0,209.0C1115.5,201.0 1114.0,187.9 1113.7,178.4C1113.3,168.9 1111.9,157.3 1115.9,152.2Z" fill="#c9c9c9" filter="url(#bl3)" opacity="0.9" />
<path d="M1122.4,211.1L1194.4,298.9" fill="none" stroke="#9c9c9c" stroke-width="7" stroke-linecap="round" filter="url(#bl3)" opacity="0.9"/>
<path d="M1089.7,248.2C1093.3,230.1 1099.9,217.2 1115.9,226.4C1131.9,235.7 1177.0,286.4 1185.7,303.7C1194.4,321.0 1175.5,323.4 1168.2,330.2C1161.0,337.1 1150.8,341.9 1142.1,344.7C1133.3,347.5 1123.9,348.7 1115.9,347.1C1107.9,345.5 1098.4,351.5 1094.0,335.1C1089.7,318.6 1086.0,266.4 1089.7,248.2Z" fill="#cacaca" filter="url(#bl3)" opacity="0.95" />
<path d="M1102.8,267.5L1163.9,327.8M1115.9,250.7L1179.2,313.4M1094.0,284.4L1137.7,342.3" fill="none" stroke="#b4b4b4" stroke-width="4" stroke-linecap="round" filter="url(#bl2)" opacity="0.7"/>
<path d="M1109.3,259.1L1171.5,320.6M1098.4,274.8L1150.8,335.1" fill="none" stroke="#dadada" stroke-width="4" stroke-linecap="round" filter="url(#bl2)" opacity="0.7"/>
<path d="M1079.2,54.0L1073.1,132.6M1069.8,58.4L1057.8,126.0" fill="none" stroke="#d6d6d6" stroke-width="5" stroke-linecap="round" filter="url(#bl2)" opacity="0.9"/>
<path d="M1085.1,56.2L1084.0,134.8" fill="none" stroke="#9e9e9e" stroke-width="3" stroke-linecap="round" filter="url(#bl2)" opacity="0.8"/>
<path d="M1024.0,174.0C1022.9,169.1 1015.4,165.7 1010.9,164.2C1006.3,162.8 1000.7,162.9 996.7,165.3C992.7,167.7 988.2,173.3 986.9,178.4C985.6,183.5 986.3,191.9 989.1,195.9C991.8,199.9 998.5,202.8 1003.3,202.4C1008.0,202.1 1014.0,198.4 1017.4,193.7C1020.9,189.0 1025.1,179.0 1024.0,174.0Z" fill="#ffffff" filter="url(#bl3)" opacity="0.9" />
<path d="M994.5,171.9L988.0,143.5M985.8,182.8L966.2,174.0M988.0,193.7L972.7,217.7M1007.6,169.7L1014.2,139.1M1001.1,198.0L990.2,239.5" fill="none" stroke="#ffffff" stroke-width="9" stroke-linecap="round" filter="url(#bl3)" opacity="0.55"/>
<path d="M985.8,226.4C981.4,222.8 970.2,219.6 968.3,226.4C966.5,233.3 972.0,255.9 974.9,267.5C977.8,279.2 981.8,293.7 985.8,296.5C989.8,299.3 997.4,292.5 998.9,284.4C1000.3,276.4 996.7,257.9 994.5,248.2C992.3,238.6 990.2,230.1 985.8,226.4Z" fill="#cdcdcd" filter="url(#bl3)" opacity="0.9" />
<path d="M1060.0,152.2C1056.0,147.1 1044.7,145.7 1038.2,147.9C1031.6,150.0 1024.3,158.0 1020.7,165.3C1017.1,172.6 1014.9,182.8 1016.3,191.5C1017.8,200.2 1024.3,211.9 1029.4,217.7C1034.5,223.5 1042.2,227.9 1046.9,226.4C1051.6,225.0 1055.3,217.0 1057.8,209.0C1060.4,201.0 1061.8,187.9 1062.2,178.4C1062.5,168.9 1064.0,157.3 1060.0,152.2Z" fill="#c9c9c9" filter="url(#bl3)" opacity="0.9" />
<path d="M1053.4,211.1L981.4,298.9" fill="none" stroke="#9c9c9c" stroke-width="7" stroke-linecap="round" filter="url(#bl3)" opacity="0.9"/>
<path d="M1086.2,248.2C1082.5,230.1 1076.0,217.2 1060.0,226.4C1044.0,235.7 998.9,286.4 990.2,303.7C981.4,321.0 1000.3,323.4 1007.6,330.2C1014.9,337.1 1025.1,341.9 1033.8,344.7C1042.5,347.5 1052.0,348.7 1060.0,347.1C1068.0,345.5 1077.5,351.5 1081.8,335.1C1086.2,318.6 1089.8,266.4 1086.2,248.2Z" fill="#cacaca" filter="url(#bl3)" opacity="0.95" />
<path d="M1073.1,267.5L1012.0,327.8M1060.0,250.7L996.7,313.4M1081.8,284.4L1038.2,342.3" fill="none" stroke="#b4b4b4" stroke-width="4" stroke-linecap="round" filter="url(#bl2)" opacity="0.7"/>
<path d="M1066.5,259.1L1004.3,320.6M1077.5,274.8L1025.1,335.1" fill="none" stroke="#dadada" stroke-width="4" stroke-linecap="round" filter="url(#bl2)" opacity="0.7"/>
<path d="M1052.6,147.9C1055.5,144.2 1066.3,152.9 1072.2,152.2C1078.1,151.5 1082.8,143.5 1087.9,143.5C1093.0,143.5 1097.0,151.5 1102.8,152.2C1108.5,152.9 1119.5,144.2 1122.4,147.9C1125.3,151.5 1121.0,164.6 1120.2,174.0C1119.5,183.5 1118.8,195.9 1118.0,204.6C1117.3,213.3 1118.4,219.1 1115.9,226.4C1113.3,233.7 1107.4,243.0 1102.8,248.2C1098.1,253.5 1093.0,257.9 1087.9,257.9C1082.8,257.9 1077.0,253.5 1072.2,248.2C1067.4,243.0 1061.7,233.7 1059.1,226.4C1056.6,219.1 1057.7,213.3 1056.9,204.6C1056.2,195.9 1055.5,183.5 1054.8,174.0C1054.0,164.6 1049.7,151.5 1052.6,147.9Z" fill="#7c7c7c" filter="url(#bl3)" opacity="0.9" />
<path d="M1087.9,198.0C1092.8,198.0 1098.5,193.7 1102.8,194.8C1107.1,195.9 1111.7,200.4 1113.7,204.6C1115.7,208.8 1115.9,214.8 1114.8,219.9C1113.7,225.0 1110.6,231.0 1107.1,235.2C1103.7,239.3 1097.2,242.8 1094.0,245.0C1090.8,247.2 1090.0,248.2 1087.9,248.2C1085.9,248.2 1085.0,247.2 1081.8,245.0C1078.7,242.8 1072.4,239.3 1068.9,235.2C1065.5,231.0 1062.4,225.0 1061.3,219.9C1060.2,214.8 1060.4,208.8 1062.4,204.6C1064.4,200.4 1069.1,195.9 1073.3,194.8C1077.6,193.7 1083.0,198.0 1087.9,198.0Z" fill="#dedede" filter="url(#bl2)" />
<ellipse cx="1087.9" cy="246.5" rx="4.6" ry="4.6" fill="#787878" filter="url(#bl1)"/>
<ellipse cx="1087.9" cy="272.4" rx="9.0" ry="22.0" fill="#d6d6d6" filter="url(#bl3)" opacity="0.8"/>
<ellipse cx="1087.9" cy="294.1" rx="10.0" ry="8.0" fill="#b8b8b8" filter="url(#bl3)" opacity="0.8"/>
<path d="M1060.9,158.8C1061.8,156.8 1068.5,157.3 1072.2,157.7C1075.9,158.0 1080.2,160.8 1083.1,160.9C1086.0,161.1 1086.4,158.9 1089.7,158.8C1093.0,158.6 1098.7,160.6 1102.8,159.9C1106.8,159.1 1112.7,153.1 1114.1,154.4C1115.6,155.7 1113.4,163.1 1111.5,167.5C1109.6,171.9 1105.0,177.3 1102.8,180.6C1100.6,183.9 1100.6,186.6 1098.4,187.1C1096.2,187.7 1092.6,183.8 1089.7,183.9C1086.8,183.9 1083.5,188.1 1080.9,187.6C1078.4,187.0 1076.8,183.6 1074.4,180.6C1072.0,177.6 1069.0,173.3 1066.8,169.7C1064.5,166.0 1060.0,160.8 1060.9,158.8Z" fill="#ffffff" filter="url(#bl1)" />
<ellipse cx="1087.9" cy="161.8" rx="2.5" ry="2.5" fill="#999" filter="url(#bl1)"/>
</g></g>
<ellipse cx="1034.7" cy="181.0" rx="8.0" ry="8.5" fill="#f53a28" filter="url(#bl1)"/>
<ellipse cx="1127.9" cy="165.3" rx="5.6" ry="5.6" fill="#f24a38" filter="url(#bl1)"/>
<defs><radialGradient id="hot" cx="0.55" cy="0.6" r="0.6"><stop offset="0" stop-color="#ffd23a"/><stop offset="0.45" stop-color="#ff7a1a"/><stop offset="1" stop-color="#f0441e"/></radialGradient></defs>
<ellipse cx="1144.2" cy="194.1" rx="6.5" ry="10" fill="url(#hot)" transform="rotate(35 1144.2 194.1)" filter="url(#bl1)"/>
<text x="5" y="68" font-size="30" font-weight="bold" text-anchor="start" >a</text>
<text x="172" y="37.5" font-size="24" font-weight="bold" text-anchor="start" >Left HIPP</text>
<text x="486.5" y="214" font-size="24" font-weight="bold" text-anchor="start" >Left PHG</text>
<text x="197.5" y="424" font-size="24" font-weight="bold" text-anchor="start" >Right HIPP</text>
<text x="534.5" y="397.5" font-size="24" font-weight="bold" text-anchor="start" >Right HIPP</text>
<text x="878.5" y="391" font-size="24" font-weight="bold" text-anchor="start" >Left PHG</text>
<text x="868.5" y="37.5" font-size="24" font-weight="bold" text-anchor="start" >Right HIPP</text>
<text x="1174.8" y="49" font-size="24" font-weight="bold" text-anchor="start" >Left PHG</text>
<text x="1244.3" y="290" font-size="24" font-weight="bold" text-anchor="start" >Left HIPP</text>
<line x1="263.4" y1="56.4" x2="335.1" y2="89.7" stroke="#000" stroke-width="6.8"/><polygon points="353.7,98.3 328.8,98.6 337.8,79.1" fill="#000"/>
<line x1="469.5" y1="190.2" x2="432.4" y2="163.6" stroke="#000" stroke-width="6.8"/><polygon points="415.8,151.6 440.3,156.0 427.8,173.5" fill="#000"/>
<line x1="352.9" y1="407.8" x2="385.3" y2="355.1" stroke="#000" stroke-width="6.8"/><polygon points="396.0,337.6 393.4,362.4 375.1,351.1" fill="#000"/>
<line x1="659.3" y1="372.7" x2="687.8" y2="328.8" stroke="#000" stroke-width="6.8"/><polygon points="699.0,311.6 695.8,336.3 677.7,324.6" fill="#000"/>
<line x1="870.8" y1="362.0" x2="831.0" y2="332.8" stroke="#000" stroke-width="6.8"/><polygon points="814.5,320.7 839.0,325.3 826.3,342.7" fill="#000"/>
<line x1="932.3" y1="57.1" x2="1012.8" y2="147.6" stroke="#000" stroke-width="6.8"/><polygon points="1026.4,162.9 1003.4,153.2 1019.5,138.9" fill="#000"/>
<line x1="1211.1" y1="89.9" x2="1155.9" y2="141.8" stroke="#000" stroke-width="6.8"/><polygon points="1141.0,155.8 1150.0,132.6 1164.8,148.2" fill="#000"/>
<line x1="1233.7" y1="259.8" x2="1178.3" y2="214.1" stroke="#000" stroke-width="6.8"/><polygon points="1162.5,201.0 1186.7,207.0 1173.0,223.6" fill="#000"/>
<defs><linearGradient id="cb" x1="0" x2="1" y1="0" y2="0"><stop offset="0" stop-color="#ff0d0d"/><stop offset="0.5" stop-color="#ff8000"/><stop offset="1" stop-color="#ffff0a"/></linearGradient></defs>
<rect x="468.7" y="446" width="550" height="25.3" fill="url(#cb)"/>
<g transform="translate(467.5,505.3) scale(0.93,1)"><text x="0" y="0" font-size="35.2" font-weight="bold" text-anchor="start" >3.1</text></g>
<text x="691.5" y="505.3" font-size="35" font-weight="bold" text-anchor="start" >Z-score</text>
<g transform="translate(989.5,505.3) scale(0.95,1)"><text x="0" y="0" font-size="35.2" font-weight="bold" text-anchor="start" >8</text></g>
<text x="5" y="551" font-size="30" font-weight="bold" text-anchor="start" >b</text>
<defs><clipPath id="cpb"><rect x="115" y="560" width="500" height="375.5"/></clipPath></defs>
<g clip-path="url(#cpb)">
<path d="M138.3,613 L605.0,794 L605.0,956 L138.3,663.5 Z" fill="#000" fill-opacity="0.105"/>
<path d="M138.3,602 Q345.7,668 605.0,718.5 L605.0,838 Q319.8,722 138.3,655 Z" fill="#1a9c76" fill-opacity="0.14"/>
<path d="M138.3,586 Q293.9,596 605.0,570.5 L605.0,729 Q268.0,664 138.3,649.5 Z" fill="#e8a02a" fill-opacity="0.16"/>
</g>
<line x1="138.3" y1="633" x2="605.0" y2="875" stroke="#111" stroke-width="3.2"/>
<line x1="138.3" y1="625.5" x2="605.0" y2="780" stroke="#16966e" stroke-width="2.8"/>
<line x1="138.3" y1="617" x2="605.0" y2="650.7" stroke="#e09a14" stroke-width="2.8"/>
<path d="M114.6,571 V937 M113.3,936.2 H615" fill="none" stroke="#2a2a2a" stroke-width="2.6"/>
<line x1="107" y1="606.0" x2="114" y2="606.0" stroke="#2a2a2a" stroke-width="2.2"/>
<text x="103.4" y="615.0" font-size="25" font-weight="bold" text-anchor="end" >0.5</text>
<line x1="107" y1="704" x2="114" y2="704" stroke="#2a2a2a" stroke-width="2.2"/>
<text x="103.4" y="713" font-size="25" font-weight="bold" text-anchor="end" >0.0</text>
<line x1="107" y1="802.0" x2="114" y2="802.0" stroke="#2a2a2a" stroke-width="2.2"/>
<text x="103.4" y="811.0" font-size="25" font-weight="bold" text-anchor="end" >-0.5</text>
<line x1="107" y1="900" x2="114" y2="900" stroke="#2a2a2a" stroke-width="2.2"/>
<text x="103.4" y="909" font-size="25" font-weight="bold" text-anchor="end" >-1.0</text>
<line x1="138.3" y1="936" x2="138.3" y2="942.5" stroke="#2a2a2a" stroke-width="2.2"/>
<text x="137.5" y="967" font-size="25" font-weight="bold" text-anchor="middle" >0.0</text>
<line x1="268.0" y1="936" x2="268.0" y2="942.5" stroke="#2a2a2a" stroke-width="2.2"/>
<text x="264.8" y="967" font-size="25" font-weight="bold" text-anchor="middle" >2.5</text>
<line x1="397.6" y1="936" x2="397.6" y2="942.5" stroke="#2a2a2a" stroke-width="2.2"/>
<text x="396.8" y="967" font-size="25" font-weight="bold" text-anchor="middle" >5.0</text>
<line x1="527.2" y1="936" x2="527.2" y2="942.5" stroke="#2a2a2a" stroke-width="2.2"/>
<text x="526.5" y="967" font-size="25" font-weight="bold" text-anchor="middle" >7.5</text>
<text x="346.5" y="998.3" font-size="24.6" font-weight="bold" text-anchor="middle" >Time (Years)</text>
<text transform="translate(46,731) rotate(-90)" font-size="24.9" font-weight="bold" text-anchor="middle">PACC5 (Z-score)</text>
<text x="638" y="550" font-size="30" font-weight="bold" text-anchor="start" >c</text>
<rect x="874" y="571" width="372.7" height="365" fill="#d8e4f0"/>
<defs><clipPath id="cpc"><rect x="789" y="560" width="457" height="375.5"/></clipPath></defs>
<g clip-path="url(#cpc)">
<path d="M809,682 L870,697 L1246,772 L1246,811 L870,699 L809,693 Z" fill="#000" fill-opacity="0.085"/>
<path d="M809,685 L870,697 L1246,735 L1246,761 L870,699 L809,695 Z" fill="#1a9c76" fill-opacity="0.12"/>
<path d="M809,689 L870,695.5 L1246,669 L1246,708 L870,699 L809,699 Z" fill="#e8a02a" fill-opacity="0.11"/>
</g>
<line x1="809" y1="687" x2="1246" y2="792" stroke="#111" stroke-width="3.2"/>
<line x1="809" y1="690" x2="1246" y2="748" stroke="#16966e" stroke-width="2.8"/>
<line x1="809" y1="695.5" x2="1246" y2="688.5" stroke="#e09a14" stroke-width="2.8"/>
<path d="M787.8,571 V937 M786.5,936.2 H1247" fill="none" stroke="#2a2a2a" stroke-width="2.6"/>
<line x1="781.5" y1="607.0" x2="787.5" y2="607.0" stroke="#2a2a2a" stroke-width="2.2"/>
<text x="771.8" y="616.3" font-size="25" font-weight="bold" text-anchor="end" >0.5</text>
<line x1="781.5" y1="705" x2="787.5" y2="705" stroke="#2a2a2a" stroke-width="2.2"/>
<text x="771.8" y="714.3" font-size="25" font-weight="bold" text-anchor="end" >0.0</text>
<line x1="781.5" y1="803.0" x2="787.5" y2="803.0" stroke="#2a2a2a" stroke-width="2.2"/>
<text x="771.8" y="812.3" font-size="25" font-weight="bold" text-anchor="end" >-0.5</text>
<line x1="781.5" y1="901" x2="787.5" y2="901" stroke="#2a2a2a" stroke-width="2.2"/>
<text x="771.8" y="910.3" font-size="25" font-weight="bold" text-anchor="end" >-1.0</text>
<line x1="809.3" y1="936" x2="809.3" y2="942" stroke="#2a2a2a" stroke-width="2.2"/>
<text x="809.3" y="965.3" font-size="24" font-weight="bold" text-anchor="middle" >1.0</text>
<line x1="939.6" y1="936" x2="939.6" y2="942" stroke="#2a2a2a" stroke-width="2.2"/>
<text x="939.6" y="965.3" font-size="24" font-weight="bold" text-anchor="middle" >1.5</text>
<line x1="1070.0" y1="936" x2="1070.0" y2="942" stroke="#2a2a2a" stroke-width="2.2"/>
<text x="1070.0" y="965.3" font-size="24" font-weight="bold" text-anchor="middle" >2.0</text>
<line x1="1200.3" y1="936" x2="1200.3" y2="942" stroke="#2a2a2a" stroke-width="2.2"/>
<text x="1200.3" y="965.3" font-size="24" font-weight="bold" text-anchor="middle" >2.5</text>
<text x="1058" y="988" font-size="24.6" font-weight="bold" text-anchor="middle" >PiB (DVR)</text>
<text transform="translate(674.4,730.4) rotate(-90)" font-size="24.9" font-weight="bold" text-anchor="middle">PACC5 decline</text>
<text transform="translate(702.6,730) rotate(-90)" font-size="24.4" word-spacing="4" font-weight="bold" text-anchor="middle">(S.D / Year)</text>
<text x="1292" y="678.6" font-size="24.5" font-weight="bold" text-anchor="start" >LC connectivity</text>
<text x="1292" y="708.3" font-size="24.5" font-weight="bold" text-anchor="start" >(N &gt; R)</text>
<rect x="1290.5" y="735.3" width="31.5" height="33" fill="#e8e8e8" stroke="#111" stroke-width="2.6"/>
<line x1="1294" y1="751.8" x2="1318" y2="751.8" stroke="#111" stroke-width="2.4"/>
<text x="1330" y="757.8" font-size="24.3" font-weight="normal" text-anchor="start" >-1 SD</text>
<rect x="1290.5" y="768.4" width="31.5" height="33" fill="#e8e8e8" stroke="#16966e" stroke-width="2.6"/>
<line x1="1294" y1="784.9" x2="1318" y2="784.9" stroke="#16966e" stroke-width="2.4"/>
<text x="1330" y="785" font-size="24.3" font-weight="normal" text-anchor="start" >mean</text>
<rect x="1290.5" y="801.5" width="31.5" height="33" fill="#e8e8e8" stroke="#d99a1c" stroke-width="2.6"/>
<line x1="1294" y1="818.0" x2="1318" y2="818.0" stroke="#d99a1c" stroke-width="2.4"/>
<text x="1330" y="819" font-size="24.3" font-weight="normal" text-anchor="start" >+1 SD</text>
<text x="5" y="1036" font-size="30" font-weight="bold" text-anchor="start" >d</text>
<line x1="741.0" y1="1260.3" x2="741.0" y2="1090.3" stroke="#cbcfd1" stroke-width="1.9"/>
<line x1="751.9" y1="1264.3" x2="861.2" y2="1134.0" stroke="#cbcfd1" stroke-width="1.9"/>
<line x1="757.7" y1="1274.3" x2="925.2" y2="1244.8" stroke="#cbcfd1" stroke-width="1.9"/>
<line x1="755.7" y1="1285.8" x2="902.9" y2="1370.8" stroke="#cbcfd1" stroke-width="1.9"/>
<line x1="746.8" y1="1293.3" x2="805.0" y2="1453.0" stroke="#cbcfd1" stroke-width="1.9"/>
<line x1="735.2" y1="1293.3" x2="677.0" y2="1453.0" stroke="#cbcfd1" stroke-width="1.9"/>
<line x1="726.3" y1="1285.8" x2="579.1" y2="1370.8" stroke="#cbcfd1" stroke-width="1.9"/>
<line x1="724.3" y1="1274.3" x2="556.8" y2="1244.8" stroke="#cbcfd1" stroke-width="1.9"/>
<line x1="730.1" y1="1264.3" x2="620.8" y2="1134.0" stroke="#cbcfd1" stroke-width="1.9"/>
<circle cx="740.7" cy="1277.4" r="188.3" fill="none" stroke="#3c4043" stroke-width="2.6" stroke-dasharray="18.9 7.99" transform="rotate(-93 740.7 1277.4)"/>
<circle cx="741.4" cy="1277" r="49" fill="none" stroke="#e0956a" stroke-width="2.7" stroke-dasharray="17 7.4" transform="rotate(-70 741.4 1277)"/>
<circle cx="741" cy="1277.3" r="17.6" fill="#fff" stroke="#cdd1d3" stroke-width="1.8"/>
<polygon points="741.0,1133.4 801.2,1205.6 833.7,1261.0 902.1,1370.3 765.2,1343.9 702.2,1384.0 641.2,1334.9 648.1,1260.9 686.5,1212.3" fill="none" stroke="#169a6c" stroke-width="5.6" stroke-linejoin="round"/>
<circle cx="741.0" cy="1133.4" r="9" fill="#169a6c"/>
<circle cx="801.2" cy="1205.6" r="9" fill="#169a6c"/>
<circle cx="833.7" cy="1261.0" r="9" fill="#169a6c"/>
<circle cx="902.1" cy="1370.3" r="9" fill="#169a6c"/>
<circle cx="765.2" cy="1343.9" r="9" fill="#169a6c"/>
<circle cx="702.2" cy="1384.0" r="9" fill="#169a6c"/>
<circle cx="641.2" cy="1334.9" r="9" fill="#169a6c"/>
<circle cx="648.1" cy="1260.9" r="9" fill="#169a6c"/>
<circle cx="686.5" cy="1212.3" r="9" fill="#169a6c"/>
<text x="741" y="1065" font-size="24.6" font-weight="normal" text-anchor="middle" >PACC</text>
<text x="905" y="1123" font-size="24.6" font-weight="normal" text-anchor="start" >DSST</text>
<text x="962" y="1251" font-size="24.6" font-weight="normal" text-anchor="start" >FCSRT – Free recall</text>
<text x="944" y="1401" font-size="24.6" font-weight="normal" text-anchor="start" >FCSRT – Total recall *</text>
<text x="823" y="1506" font-size="24.6" font-weight="normal" text-anchor="start" >LM – Delayed recall</text>
<text x="590" y="1501.6" font-size="24.6" font-weight="normal" text-anchor="start" >MMSE</text>
<text x="493" y="1401" font-size="24.6" font-weight="normal" text-anchor="start" >CAT</text>
<text x="319" y="1263" font-size="24.6" font-weight="normal" text-anchor="start" >Executive function</text>
<text x="486" y="1124" font-size="24.6" font-weight="normal" text-anchor="start" >Memory</text>
</svg>
</body></html>
